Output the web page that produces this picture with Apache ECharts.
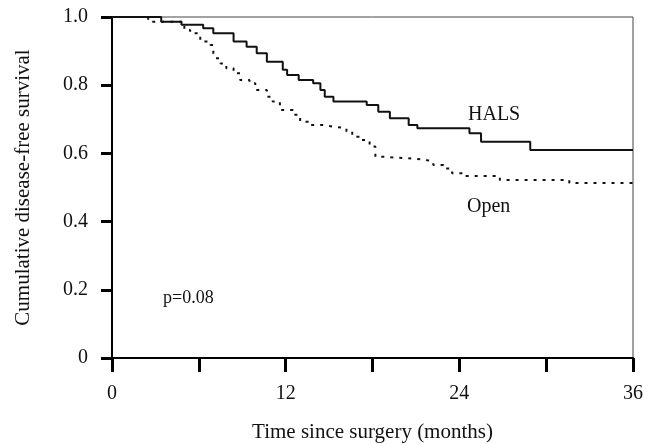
<!DOCTYPE html>
<html>
<head>
<meta charset="utf-8">
<script src="https://cdn.jsdelivr.net/npm/echarts@6/dist/echarts.min.js"></script>
<style>html,body{margin:0;padding:0;background:#fff}#c{width:654px;height:444px}</style>
</head>
<body>
<div id="c"></div>
<script>
// Kaplan-Meier step points: [month, cumulative disease-free survival]
const halsMonths = [0, 3.4, 4.8, 6.3, 7.0, 8.4, 9.3, 10.0, 10.7, 11.8, 12.1, 12.9, 13.9, 14.4, 14.7, 15.3, 17.6, 18.4, 19.2, 20.5, 21.1, 24.7, 25.5, 28.9, 36];
const halsSurvival = [1.0, 0.986, 0.977, 0.967, 0.952, 0.928, 0.913, 0.894, 0.869, 0.845, 0.83, 0.815, 0.806, 0.786, 0.766, 0.752, 0.742, 0.722, 0.703, 0.683, 0.674, 0.659, 0.634, 0.61, 0.61];
const openMonths = [0, 2.5, 4.8, 5.0, 5.4, 6.1, 6.8, 7.0, 7.1, 7.5, 7.9, 8.4, 8.85, 9.5, 9.9, 10.7, 11.1, 11.6, 12.5, 13.0, 13.7, 14.6, 15.4, 16.2, 16.6, 17.1, 17.8, 18.2, 18.75, 20.4, 21.7, 22.2, 22.9, 23.5, 24.4, 26.8, 31.6, 36];
const openSurvival = [1.0, 0.986, 0.977, 0.962, 0.952, 0.928, 0.918, 0.894, 0.879, 0.864, 0.85, 0.835, 0.815, 0.806, 0.786, 0.766, 0.752, 0.727, 0.713, 0.693, 0.683, 0.678, 0.674, 0.664, 0.649, 0.639, 0.62, 0.59, 0.586, 0.581, 0.576, 0.566, 0.556, 0.542, 0.534, 0.522, 0.513, 0.505];
const xTickLabels = ['0', '12', '24', '36'];
const yTickLabels = ['0', '0.2', '0.4', '0.6', '0.8', '1.0'];
const seriesNames = ['HALS', 'Open'];
const pValueText = 'p=0.08';

const FONT = 'Liberation Serif';
const chart = echarts.init(document.getElementById('c'), null, {renderer: 'canvas'});
const zip = (xs, ys) => xs.map((x, i) => [x, ys[i]]);
chart.setOption({
  backgroundColor: '#fff',
  animation: false,
  grid: {left: 112, right: 21, top: 17, bottom: 86, show: true, borderColor: '#444', borderWidth: 1,
         containLabel: false, outerBoundsMode: 'none'},
  xAxis: {
    type: 'value', min: 0, max: 36, interval: 6,
    name: 'Time since surgery (months)', nameLocation: 'middle', nameGap: 64,
    nameTextStyle: {fontFamily: FONT, fontSize: 21, color: '#111'},
    axisLine: {lineStyle: {color: '#000', width: 2}},
    axisTick: {show: true, inside: false, length: 14, lineStyle: {color: '#000', width: 3}},
    axisLabel: {fontFamily: FONT, fontSize: 20, color: '#111', margin: 26,
      formatter: v => { const s = String(v); return xTickLabels.includes(s) ? s : ''; }},
    splitLine: {show: false}
  },
  yAxis: {
    type: 'value', min: 0, max: 1, interval: 0.2,
    name: 'Cumulative disease-free survival', nameLocation: 'middle', nameGap: 78,
    nameTextStyle: {fontFamily: FONT, fontSize: 21, color: '#111'},
    axisLine: {lineStyle: {color: '#000', width: 2}},
    axisTick: {show: true, inside: false, length: 11, lineStyle: {color: '#000', width: 3}},
    axisLabel: {fontFamily: FONT, fontSize: 20, color: '#111', margin: 24,
      formatter: v => yTickLabels[Math.round(v * 5)]},
    splitLine: {show: false}
  },
  series: [
    {name: seriesNames[0], type: 'line', step: 'end', showSymbol: false, symbol: 'none',
     data: zip(halsMonths, halsSurvival), lineStyle: {color: '#111', width: 2}, z: 3},
    {name: seriesNames[1], type: 'line', step: 'end', showSymbol: false, symbol: 'none',
     data: zip(openMonths, openSurvival), lineStyle: {color: '#111', width: 2, type: [3, 6]}, z: 3}
  ],
  graphic: [
    {type: 'text', left: 468, top: 105, style: {text: seriesNames[0], font: '20px "Liberation Serif"', fill: '#111'}},
    {type: 'text', left: 467, top: 197, style: {text: seriesNames[1], font: '20px "Liberation Serif"', fill: '#111'}},
    {type: 'text', left: 163, top: 289, style: {text: pValueText, font: '18px "Liberation Serif"', fill: '#111'}}
  ]
});
</script>
</body>
</html>
